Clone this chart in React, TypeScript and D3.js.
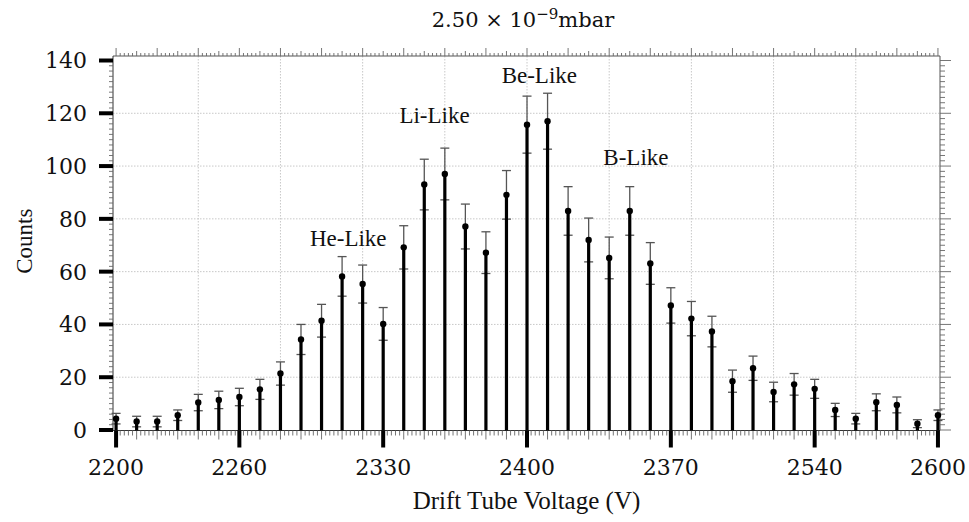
import React, { useRef, useEffect } from 'react';
import * as d3 from 'd3';

// drift tube voltage (V) of every measured point
const voltages = [
  2200, 2210, 2220, 2230, 2240, 2250, 2260, 2270, 2280, 2290,
  2300, 2310, 2320, 2330, 2340, 2350, 2360, 2370, 2380, 2390,
  2400, 2410, 2420, 2430, 2440, 2450, 2460, 2470, 2480, 2490,
  2500, 2510, 2520, 2530, 2540, 2550, 2560, 2570, 2580, 2590, 2600,
];

// counts
const counts = [
  4.3, 3.2, 3.2, 5.6, 10.4, 11.4, 12.5, 15.4, 21.4, 34.3,
  41.4, 58.2, 55.3, 40.2, 69.2, 93.0, 97.0, 77.1, 67.2, 89.1,
  115.7, 117.0, 83.0, 72.0, 65.2, 83.0, 63.1, 47.2, 42.2, 37.3,
  18.5, 23.4, 14.4, 17.3, 15.6, 7.6, 4.3, 10.5, 9.5, 2.4, 5.6,
];

// half-height of each error bar
const errors = [
  2.0, 2.0, 2.0, 2.0, 3.1, 3.3, 3.3, 3.8, 4.4, 5.7,
  6.2, 7.5, 7.2, 6.2, 8.2, 9.6, 9.8, 8.5, 7.9, 9.2,
  10.8, 10.6, 9.2, 8.3, 7.9, 9.2, 7.9, 6.7, 6.5, 5.8,
  4.2, 4.6, 3.7, 4.1, 3.6, 2.5, 2.0, 3.2, 3.0, 1.5, 2.0,
];

// labelled x ticks (labels kept as printed in the original)
const xTickValues = [2200, 2260, 2330, 2400, 2470, 2540, 2600];
const xTickLabels = ['2200', '2260', '2330', '2400', '2370', '2540', '2600'];

const yTickValues = [0, 20, 40, 60, 80, 100, 120, 140];
const xGridValues = [2240, 2280, 2320, 2360, 2400, 2440, 2480, 2520, 2560];
const yGridValues = [20, 40, 60, 80, 100, 120];

// peak annotations
const peakNames = ['He-Like', 'Li-Like', 'Be-Like', 'B-Like'];
const peakVoltages = [2313, 2355, 2406, 2453];
const peakCounts = [69.7, 116.4, 131.5, 100.4];

const serif = '"Liberation Serif", "Times New Roman", serif';
const tickFont = '"DejaVu Serif", serif';

const Chart = ({ width = 969, height = 522 }) => {
  const svgRef = useRef<SVGSVGElement>(null);

  useEffect(() => {
    const svg = d3.select(svgRef.current)
      .attr('width', width)
      .attr('height', height)
      .html('');

    // --- Scales ---
    const x = d3.scaleLinear().domain([2198.5, 2601]).range([113, 940]);
    const y = d3.scaleLinear().domain([0, 140]).range([430, 60.5]);
    const [x0, x1] = x.range();
    const yBottom = y(0) + 0.5;
    const yTop = y(141.7);

    const data = voltages.map((v, i) => ({ v, c: counts[i], e: errors[i] }));

    // --- Grid ---
    svg.append('g')
      .selectAll('line')
      .data(xGridValues)
      .join('line')
      .attr('x1', d => x(d)).attr('x2', d => x(d))
      .attr('y1', yTop).attr('y2', yBottom)
      .attr('stroke', '#c8c8c8')
      .attr('stroke-dasharray', '1.5 1.5');

    svg.append('g')
      .selectAll('line')
      .data(yGridValues)
      .join('line')
      .attr('x1', x0).attr('x2', x1)
      .attr('y1', d => y(d)).attr('y2', d => y(d))
      .attr('stroke', '#c8c8c8')
      .attr('stroke-dasharray', '1.5 1.5');

    // --- Frame ---
    const frame = svg.append('g').attr('stroke', '#555').attr('stroke-width', 1);
    frame.append('line').attr('x1', x0).attr('x2', x1).attr('y1', yTop).attr('y2', yTop);
    frame.append('line').attr('x1', x1).attr('x2', x1).attr('y1', yTop).attr('y2', yBottom);
    frame.append('line').attr('x1', x0).attr('x2', x0).attr('y1', yTop).attr('y2', yBottom).attr('stroke', '#333');
    frame.append('line').attr('x1', x0).attr('x2', x1).attr('y1', yBottom).attr('y2', yBottom).attr('stroke', '#333');

    // --- Minor ticks (x every 2 V, y every 2 counts) ---
    const xMinor = d3.range(2200, 2601, 2);
    const yMinor = d3.range(0, 141, 2);

    // top: point up
    svg.append('g')
      .selectAll('line')
      .data(xMinor)
      .join('line')
      .attr('x1', d => x(d)).attr('x2', d => x(d))
      .attr('y1', yTop)
      .attr('y2', d => yTop - (d % 20 === 0 ? 8 : d % 10 === 0 ? 5 : 3))
      .attr('stroke', '#666')
      .attr('stroke-width', 0.9);

    // bottom: point down
    svg.append('g')
      .selectAll('line')
      .data(xMinor)
      .join('line')
      .attr('x1', d => x(d)).attr('x2', d => x(d))
      .attr('y1', yBottom)
      .attr('y2', d => yBottom + (d % 10 === 0 ? 9 : 5))
      .attr('stroke', '#666')
      .attr('stroke-width', 0.9);

    // left: point left
    svg.append('g')
      .selectAll('line')
      .data(yMinor)
      .join('line')
      .attr('x1', x0).attr('x2', x0 - 4)
      .attr('y1', d => y(d)).attr('y2', d => y(d))
      .attr('stroke', '#666')
      .attr('stroke-width', 0.9);

    // right: point right
    svg.append('g')
      .selectAll('line')
      .data(yMinor)
      .join('line')
      .attr('x1', x1)
      .attr('x2', d => x1 + (d % 20 === 0 ? 11 : 5))
      .attr('y1', d => y(d)).attr('y2', d => y(d))
      .attr('stroke', '#666')
      .attr('stroke-width', 0.9);

    // --- Major ticks ---
    svg.append('g')
      .selectAll('line')
      .data(xTickValues)
      .join('line')
      .attr('x1', d => x(d)).attr('x2', d => x(d))
      .attr('y1', yBottom).attr('y2', yBottom + 17)
      .attr('stroke', '#000')
      .attr('stroke-width', 4);

    svg.append('g')
      .selectAll('line')
      .data(yTickValues)
      .join('line')
      .attr('x1', x0 - 14).attr('x2', x0)
      .attr('y1', d => y(d)).attr('y2', d => y(d))
      .attr('stroke', '#000')
      .attr('stroke-width', 4);

    // --- Tick labels ---
    svg.append('g')
      .selectAll('text')
      .data(xTickValues)
      .join('text')
      .attr('x', d => x(d))
      .attr('y', 475)
      .attr('text-anchor', 'middle')
      .attr('font-family', tickFont)
      .attr('font-size', 22)
      .attr('fill', '#111')
      .text((d, i) => xTickLabels[i]);

    svg.append('g')
      .selectAll('text')
      .data(yTickValues)
      .join('text')
      .attr('x', 87)
      .attr('y', d => y(d))
      .attr('dy', '0.36em')
      .attr('text-anchor', 'end')
      .attr('font-family', tickFont)
      .attr('font-size', 22)
      .attr('fill', '#111')
      .text(d => d);

    // --- Error bars ---
    const bars = svg.append('g');
    bars.selectAll('.err')
      .data(data)
      .join('line')
      .attr('class', 'err')
      .attr('x1', d => x(d.v)).attr('x2', d => x(d.v))
      .attr('y1', d => y(d.c - d.e)).attr('y2', d => y(d.c + d.e))
      .attr('stroke', '#555')
      .attr('stroke-width', 1.3);

    ['upper', 'lower'].forEach(side => {
      bars.selectAll(`.cap-${side}`)
        .data(data)
        .join('line')
        .attr('class', `cap-${side}`)
        .attr('x1', d => x(d.v) - 4.5).attr('x2', d => x(d.v) + 4.5)
        .attr('y1', d => y(side === 'upper' ? d.c + d.e : d.c - d.e))
        .attr('y2', d => y(side === 'upper' ? d.c + d.e : d.c - d.e))
        .attr('stroke', '#555')
        .attr('stroke-width', 1.3);
    });

    // stems from the axis up to the value
    bars.selectAll('.stem')
      .data(data)
      .join('line')
      .attr('class', 'stem')
      .attr('x1', d => x(d.v)).attr('x2', d => x(d.v))
      .attr('y1', yBottom).attr('y2', d => y(d.c))
      .attr('stroke', '#000')
      .attr('stroke-width', 3.2);

    bars.selectAll('.dot')
      .data(data)
      .join('circle')
      .attr('class', 'dot')
      .attr('cx', d => x(d.v))
      .attr('cy', d => y(d.c))
      .attr('r', 3.2)
      .attr('fill', '#000');

    // --- Annotations ---
    svg.append('g')
      .selectAll('text')
      .data(peakNames)
      .join('text')
      .attr('x', (d, i) => x(peakVoltages[i]))
      .attr('y', (d, i) => y(peakCounts[i]))
      .attr('text-anchor', 'middle')
      .attr('font-family', serif)
      .attr('font-size', 23)
      .attr('fill', '#111')
      .text(d => d);

    // --- Axis titles ---
    svg.append('text')
      .attr('x', (x0 + x1) / 2)
      .attr('y', 509)
      .attr('text-anchor', 'middle')
      .attr('font-family', serif)
      .attr('font-size', 25)
      .attr('fill', '#111')
      .text('Drift Tube Voltage (V)');

    svg.append('text')
      .attr('transform', `translate(32, ${y(70) - 4}) rotate(-90)`)
      .attr('text-anchor', 'middle')
      .attr('font-family', serif)
      .attr('font-size', 23)
      .attr('fill', '#111')
      .text('Counts');

    // --- Title ---
    const title = svg.append('text')
      .attr('x', 523)
      .attr('y', 27)
      .attr('text-anchor', 'middle')
      .attr('font-family', tickFont)
      .attr('font-size', 21)
      .attr('fill', '#111');
    title.append('tspan').text('2.50 × 10');
    title.append('tspan').attr('dy', -8).attr('font-size', 15).text('−9');
    title.append('tspan').attr('dy', 8).text('mbar');
  }, [width, height]);

  return <svg ref={svgRef} style={{ position: 'absolute', left: 0, top: 0, background: '#fff' }} />;
};

export default function App() {
  return <Chart />;
}
